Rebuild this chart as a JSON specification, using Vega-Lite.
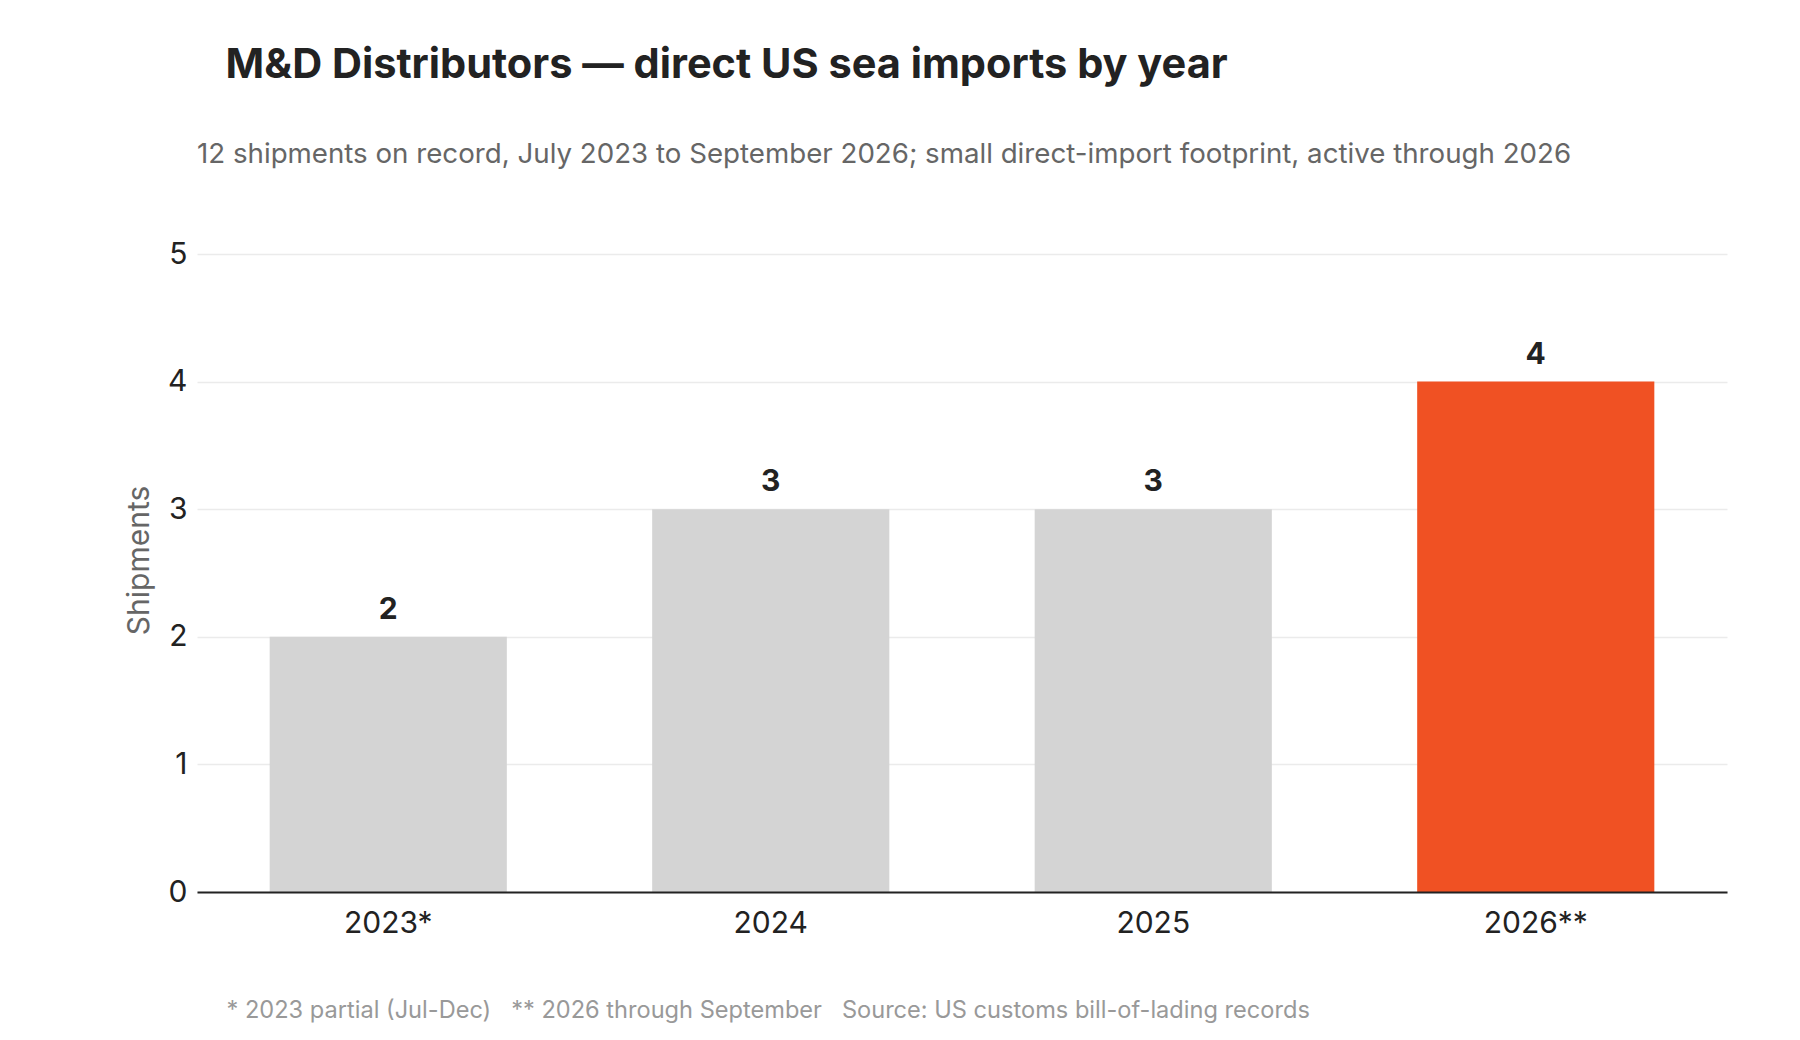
{
  "$schema": "https://vega.github.io/schema/vega-lite/v6.json",
  "background": "white",
  "padding": {"left": 124, "top": 44, "right": 72, "bottom": 14},
  "config": {
    "font": "Inter",
    "view": {"stroke": null}
  },
  "title": {
    "text": "M&D Distributors — direct US sea imports by year",
    "anchor": "start",
    "fontSize": 41.5,
    "fontWeight": "bold",
    "color": "#222222",
    "dx": 101,
    "offset": 55
  },
  "vconcat": [
    {
      "width": 1530,
      "height": 638,
      "title": {
        "text": "12 shipments on record, July 2023 to September 2026; small direct-import footprint, active through 2026",
        "anchor": "start",
        "frame": "group",
        "fontSize": 27.7,
        "fontWeight": "normal",
        "color": "#666666",
        "offset": 70
      },
      "data": {
        "values": [
          {"year": "2023*", "shipments": 2},
          {"year": "2024", "shipments": 3},
          {"year": "2025", "shipments": 3},
          {"year": "2026**", "shipments": 4}
        ]
      },
      "encoding": {
        "x": {
          "field": "year",
          "type": "nominal",
          "sort": null,
          "scale": {"paddingInner": 0.38, "paddingOuter": 0.19},
          "axis": {
            "labelAngle": 0,
            "labelFontSize": 30,
            "labelColor": "#222222",
            "labelPadding": 16,
            "ticks": false,
            "domainColor": "#222222",
            "domainWidth": 2,
            "zindex": 1,
            "title": "* 2023 partial (Jul-Dec)\u00a0\u00a0\u00a0** 2026 through September\u00a0\u00a0\u00a0Source: US customs bill-of-lading records",
            "titleFontSize": 23.6,
            "titleFontWeight": "normal",
            "titleColor": "#999999",
            "titleAnchor": "start",
            "titleAlign": "left",
            "titleBaseline": "alphabetic",
            "titleX": 29,
            "titleY": 125
          }
        },
        "y": {
          "field": "shipments",
          "type": "quantitative",
          "scale": {"domain": [0, 5], "nice": false},
          "axis": {
            "values": [0, 1, 2, 3, 4, 5],
            "domain": false,
            "ticks": false,
            "gridColor": "#ebebeb",
            "gridWidth": 1.5,
            "labelFontSize": 30,
            "labelColor": "#222222",
            "labelPadding": 10,
            "zindex": 0,
            "title": "Shipments",
            "titleFontSize": 30,
            "titleFontWeight": "normal",
            "titleColor": "#666666",
            "titlePadding": 13,
            "titleY": 306
          }
        }
      },
      "layer": [
        {
          "mark": {"type": "bar", "color": "#d4d4d4"},
          "encoding": {
            "color": {
              "condition": {"test": "datum.year === '2026**'", "value": "#f05123"},
              "value": "#d4d4d4"
            }
          }
        },
        {
          "mark": {
            "type": "text",
            "baseline": "alphabetic",
            "dy": -18,
            "fontSize": 30,
            "fontWeight": "bold",
            "color": "#222222"
          },
          "encoding": {
            "text": {"field": "shipments", "type": "quantitative"}
          }
        }
      ]
    }
  ]
}
